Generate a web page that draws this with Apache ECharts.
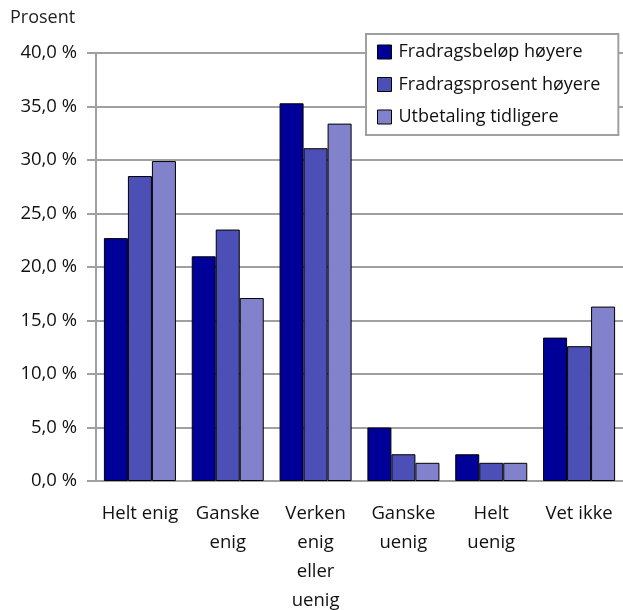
<!DOCTYPE html>
<html>
<head>
<meta charset="utf-8">
<script src="https://cdn.jsdelivr.net/npm/echarts@6/dist/echarts.min.js"></script>
<style>
  html, body { margin: 0; padding: 0; background: #fff; }
  #chart { width: 623px; height: 610px; }
</style>
</head>
<body>
<div id="chart"></div>
<script>
// svarkategorier
const categories = ['Helt enig', 'Ganske\nenig', 'Verken\nenig\neller\nuenig', 'Ganske\nuenig', 'Helt\nuenig', 'Vet ikke'];
const seriesNames = ['Fradragsbeløp høyere', 'Fradragsprosent høyere', 'Utbetaling tidligere'];
const belopHoyere = [22.7, 21.0, 35.3, 5.0, 2.5, 13.4];
const prosentHoyere = [28.5, 23.5, 31.1, 2.5, 1.7, 12.6];
const utbetalingTidligere = [29.9, 17.1, 33.4, 1.7, 1.7, 16.3];
const colors = ['#000099', '#4b4fb6', '#8282cc'];

const chart = echarts.init(document.getElementById('chart'));
const font = '"Open Sans", "Noto Sans", sans-serif';
const gridGray = '#a0a0a0';

const makeBar = (name, data, i) => ({
    name: name,
    type: 'bar',
    data: data,
    barGap: 0,
    barCategoryGap: '18%',
    itemStyle: { color: colors[i], borderColor: '#000', borderWidth: 1 }
});

chart.setOption({
    animation: false,
    textStyle: { fontFamily: font },
    grid: { left: 96, right: 0, top: 53, bottom: 129, outerBoundsMode: 'none', containLabel: false },
    graphic: [{
        type: 'text', left: 10, top: 9,
        style: { text: 'Prosent', fontSize: 18, fontFamily: font, fill: '#222' }
    }],
    legend: {
        orient: 'vertical',
        left: 366, top: 34,
        padding: [8, 18, 8, 11],
        itemGap: 12.5,
        itemWidth: 14, itemHeight: 14,
        icon: 'rect',
        backgroundColor: '#fff',
        borderColor: gridGray,
        borderWidth: 2,
        borderRadius: 0,
        textStyle: { fontSize: 18, lineHeight: 20, color: '#111', fontFamily: font, padding: [0, 0, 0, 2] },
        itemStyle: { borderColor: '#000', borderWidth: 1 },
        data: seriesNames
    },
    xAxis: {
        type: 'category',
        data: categories,
        axisLine: { lineStyle: { color: gridGray, width: 2 } },
        axisTick: { length: 6, lineStyle: { color: gridGray, width: 2 } },
        axisLabel: { fontSize: 18.5, color: '#111', margin: 18, lineHeight: 29, interval: 0 }
    },
    yAxis: {
        type: 'value',
        min: 0, max: 40, interval: 5,
        axisLine: { show: true, lineStyle: { color: gridGray, width: 2 } },
        axisTick: { show: true, length: 9, lineStyle: { color: gridGray, width: 2 } },
        splitLine: { lineStyle: { color: gridGray, width: 2 } },
        axisLabel: {
            fontSize: 18.5, color: '#111', margin: 19,
            formatter: v => v.toFixed(1).replace('.', ',') + ' %'
        }
    },
    series: [
        makeBar(seriesNames[0], belopHoyere, 0),
        makeBar(seriesNames[1], prosentHoyere, 1),
        makeBar(seriesNames[2], utbetalingTidligere, 2)
    ]
});
</script>
</body>
</html>
